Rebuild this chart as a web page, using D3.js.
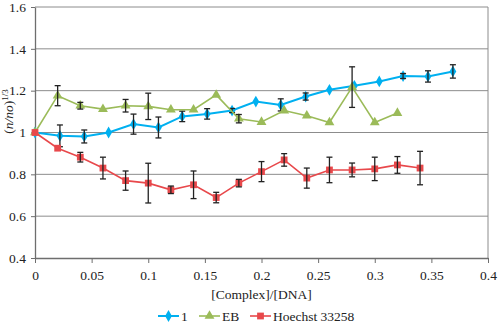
<!DOCTYPE html>
<html>
<head>
<meta charset="utf-8">
<script src="https://cdn.jsdelivr.net/npm/d3@7"></script>
<style>
    body { margin: 0; background: #fff; }
    svg text { font-family: "Liberation Serif", "Times New Roman", Times, "DejaVu Serif", serif !important; fill: #222; }
</style>
</head>
<body>
<div id="chart"></div>
<script>
// Data
let xTicks = [0, 0.05, 0.1, 0.15, 0.2, 0.25, 0.3, 0.35, 0.4];
let yTicks = [0.4, 0.6, 0.8, 1.0, 1.2, 1.4, 1.6];

let x1 = [0, 0.022, 0.0435, 0.065, 0.087, 0.109, 0.13, 0.152, 0.174, 0.195, 0.217, 0.239, 0.26, 0.282, 0.304, 0.325, 0.347, 0.369];
let y1 = [1.0, 0.984, 0.981, 1.0, 1.04, 1.024, 1.077, 1.089, 1.105, 1.148, 1.132, 1.172, 1.204, 1.223, 1.244, 1.27, 1.268, 1.292];
let err1 = [0, 0.052, 0.031, 0, 0.048, 0.05, 0.025, 0.025, 0.01, 0, 0.029, 0.017, 0, 0, 0, 0.012, 0.027, 0.032];

let xEB = [0, 0.02, 0.04, 0.06, 0.08, 0.10, 0.12, 0.14, 0.16, 0.18, 0.20, 0.22, 0.24, 0.26, 0.28, 0.30, 0.32];
let yEB = [1.0, 1.176, 1.128, 1.112, 1.128, 1.125, 1.109, 1.109, 1.18, 1.066, 1.05, 1.105, 1.08, 1.048, 1.217, 1.048, 1.093];
let errEB = [0, 0.048, 0.016, 0, 0.03, 0.063, 0, 0, 0, 0.02, 0, 0, 0, 0, 0.097, 0, 0];

let xH = [0, 0.02, 0.04, 0.06, 0.08, 0.10, 0.12, 0.14, 0.16, 0.18, 0.20, 0.22, 0.24, 0.26, 0.28, 0.30, 0.32, 0.34];
let yH = [1.0, 0.925, 0.882, 0.83, 0.77, 0.758, 0.726, 0.75, 0.689, 0.758, 0.813, 0.869, 0.782, 0.821, 0.821, 0.826, 0.845, 0.83];
let errH = [0, 0, 0.023, 0.052, 0.046, 0.095, 0.018, 0.066, 0.025, 0.018, 0.048, 0.03, 0.048, 0.061, 0.033, 0.056, 0.04, 0.08];

let seriesNames = ['1', 'EB', 'Hoechst 33258'];
let seriesColors = ['#00b0f0', '#9bbb59', '#e8484b'];

let width = 498, height = 325;
let margin = {top: 7, right: 10, bottom: 67, left: 35};
let serif = '"Liberation Serif", "Times New Roman", Times, serif';

let svg = d3.select('#chart').append('svg')
    .attr('width', width)
    .attr('height', height);

let xScale = d3.scaleLinear()
    .domain([0, 0.4])
    .range([margin.left, width - margin.right]);

let yScale = d3.scaleLinear()
    .domain([0.4, 1.6])
    .range([height - margin.bottom, margin.top]);

// Gridlines
svg.append('g')
    .selectAll('line')
    .data(yTicks.slice(1))
    .enter().append('line')
    .attr('x1', xScale(0))
    .attr('x2', xScale(0.4))
    .attr('y1', d => yScale(d))
    .attr('y2', d => yScale(d))
    .attr('stroke', '#8c8c8c')
    .attr('stroke-width', 1);

// right border
svg.append('line')
    .attr('x1', xScale(0.4)).attr('x2', xScale(0.4))
    .attr('y1', yScale(1.6)).attr('y2', yScale(0.4))
    .attr('stroke', '#8c8c8c');

// Axes
let xAxis = d3.axisBottom(xScale)
    .tickValues(xTicks)
    .tickSize(5)
    .tickSizeOuter(0)
    .tickFormat(d => d3.format('~g')(d));

let yAxis = d3.axisLeft(yScale)
    .tickValues(yTicks)
    .tickSize(4)
    .tickSizeOuter(0)
    .tickFormat(d => d3.format('~g')(d));

let gx = svg.append('g')
    .attr('transform', 'translate(0,' + yScale(0.4) + ')')
    .call(xAxis);

let gy = svg.append('g')
    .attr('transform', 'translate(' + xScale(0) + ',0)')
    .call(yAxis);

[gx, gy].forEach(g => {
    g.attr('font-family', serif).attr('font-size', 13.5);
    g.select('.domain').attr('stroke', '#6e6e6e').attr('stroke-width', 1.3);
    g.selectAll('.tick line').attr('stroke', '#6e6e6e');
    g.selectAll('.tick text').attr('fill', '#222');
});
gx.selectAll('.tick text').attr('dy', '1.05em');
gy.selectAll('.tick text').attr('dx', '-0.15em');

// Axis titles
svg.append('text')
    .attr('x', (xScale(0) + xScale(0.4)) / 2)
    .attr('y', 299)
    .attr('text-anchor', 'middle')
    .style('font-size', '13.5px')
    .text('[Complex]/[DNA]');

let yTitle = svg.append('text')
    .attr('transform', 'translate(13,' + yScale(1.1) + ') rotate(-90)')
    .attr('text-anchor', 'middle')
    .style('font-size', '13.5px');
yTitle.append('tspan').text('(');
yTitle.append('tspan').style('font-style', 'italic').text('n/no');
yTitle.append('tspan').text(')');
yTitle.append('tspan').attr('dy', '-5').style('font-size', '9px').text('1/3');

// Series
let series = [
    {name: seriesNames[0], color: seriesColors[0], x: x1, y: y1, err: err1, symbol: d3.symbolDiamond, size: 40, width: 2},
    {name: seriesNames[1], color: seriesColors[1], x: xEB, y: yEB, err: errEB, symbol: d3.symbolTriangle, size: 42, width: 1.6},
    {name: seriesNames[2], color: seriesColors[2], x: xH, y: yH, err: errH, symbol: d3.symbolSquare, size: 46, width: 1.6}
];

let line = d3.line()
    .x(d => xScale(d[0]))
    .y(d => yScale(d[1]));

series.forEach(s => {
    let pts = s.x.map((v, i) => [v, s.y[i], s.err[i]]);
    let g = svg.append('g');

    g.append('path')
        .datum(pts)
        .attr('d', line)
        .attr('fill', 'none')
        .attr('stroke', s.color)
        .attr('stroke-width', s.width);

    g.selectAll('path.marker')
        .data(pts)
        .enter().append('path')
        .attr('class', 'marker')
        .attr('d', d3.symbol().type(s.symbol).size(s.size))
        .attr('transform', d => 'translate(' + xScale(d[0]) + ',' + yScale(d[1]) + ')')
        .attr('fill', s.color);

    // error bars
    let eb = g.selectAll('g.err')
        .data(pts.filter(d => d[2] > 0))
        .enter().append('g')
        .attr('stroke', '#222')
        .attr('stroke-width', 1.3);

    eb.append('line')
        .attr('x1', d => xScale(d[0])).attr('x2', d => xScale(d[0]))
        .attr('y1', d => yScale(d[1] - d[2])).attr('y2', d => yScale(d[1] + d[2]));
    eb.append('line')
        .attr('x1', d => xScale(d[0]) - 3).attr('x2', d => xScale(d[0]) + 3)
        .attr('y1', d => yScale(d[1] + d[2])).attr('y2', d => yScale(d[1] + d[2]));
    eb.append('line')
        .attr('x1', d => xScale(d[0]) - 3).attr('x2', d => xScale(d[0]) + 3)
        .attr('y1', d => yScale(d[1] - d[2])).attr('y2', d => yScale(d[1] - d[2]));
});

// Legend
let legendX = [158, 199, 250];
let legend = svg.selectAll('g.legend')
    .data(series)
    .enter().append('g')
    .attr('class', 'legend')
    .attr('transform', (d, i) => 'translate(' + legendX[i] + ',316)');

legend.append('line')
    .attr('x1', 0).attr('x2', 21)
    .attr('stroke', d => d.color)
    .attr('stroke-width', d => d.width);

legend.append('path')
    .attr('d', d => d3.symbol().type(d.symbol).size(d.size)())
    .attr('transform', 'translate(10.5,0)')
    .attr('fill', d => d.color);

legend.append('text')
    .attr('x', 23)
    .attr('y', 4.5)
    .style('font-size', '13.5px')
    .text(d => d.name);
</script>
</body>
</html>
